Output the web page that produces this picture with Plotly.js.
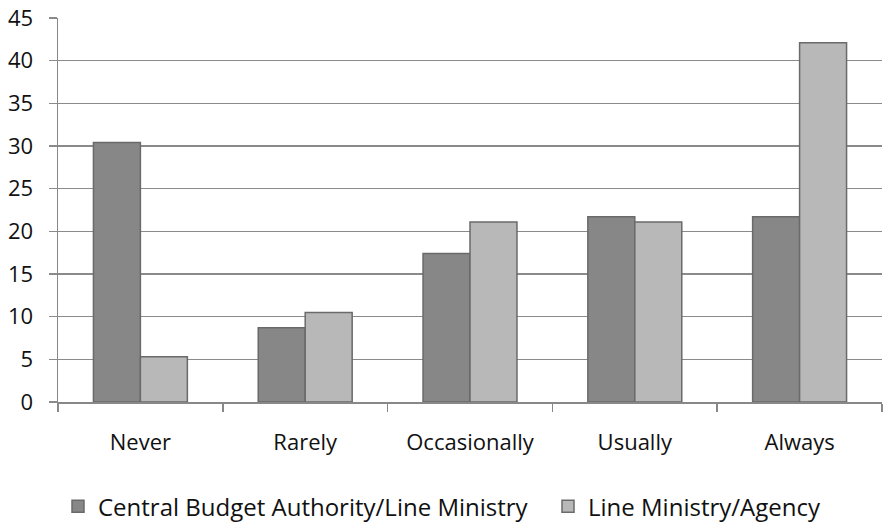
<!DOCTYPE html>
<html>
<head>
<meta charset="utf-8">
<script src="https://cdn.plot.ly/plotly-3.0.1.min.js"></script>
<style>html,body{margin:0;padding:0;background:#fff;}#chart{width:889px;height:524px;}</style>
</head>
<body>
<div id="chart"></div>
<script>
const categories = ["Never", "Rarely", "Occasionally", "Usually", "Always"];
const centralBudget = [30.4, 8.7, 17.4, 21.7, 21.7];
const lineMinistry = [5.3, 10.5, 21.1, 21.1, 42.1];
const seriesNames = ["Central Budget Authority/Line Ministry", "Line Ministry/Agency"];
const yTicks = [0, 5, 10, 15, 20, 25, 30, 35, 40, 45];

const tickFont = {family: "'Open Sans', 'Noto Sans', sans-serif", size: 22, color: "#111"};
const legendFont = {family: "'Open Sans', 'Noto Sans', sans-serif", size: 24, color: "#111"};

const data = [
  {type: "bar", name: seriesNames[0], x: categories, y: centralBudget, legendwidth: 445,
   marker: {color: "#878787", line: {color: "#6a6a6a", width: 1.5}}},
  {type: "bar", name: seriesNames[1], x: categories, y: lineMinistry,
   marker: {color: "#b8b8b8", line: {color: "#6a6a6a", width: 1.5}}}
];

const layout = {
  width: 889, height: 524,
  margin: {l: 58, r: 7, t: 18, b: 122},
  paper_bgcolor: "#fff", plot_bgcolor: "#fff",
  font: tickFont,
  barmode: "group", bargap: 0.43, bargroupgap: 0,
  showlegend: true,
  legend: {orientation: "h", xref: "container", x: 58 / 889, xanchor: "left",
           yref: "container", y: 0.033, yanchor: "middle",
           font: legendFont, itemwidth: 30, traceorder: "normal"},
  xaxis: {type: "category", showgrid: false, showline: true, linecolor: "#888", linewidth: 1.5,
          ticks: "outside", tickson: "boundaries", ticklen: 8, tickcolor: "#888", tickwidth: 1.5,
          tickfont: tickFont, ticklabelstandoff: 20},
  yaxis: {range: [0, 45], tickvals: yTicks, showgrid: true, gridcolor: "#8a8a8a", gridwidth: 1.5,
          showline: true, linecolor: "#888", linewidth: 1.5, zeroline: false,
          ticks: "outside", ticklen: 8, tickcolor: "#8a8a8a", tickwidth: 1.5,
          tickfont: tickFont, ticklabelstandoff: 11}
};

Plotly.newPlot("chart", data, layout, {displayModeBar: false, staticPlot: true});
</script>
</body>
</html>
